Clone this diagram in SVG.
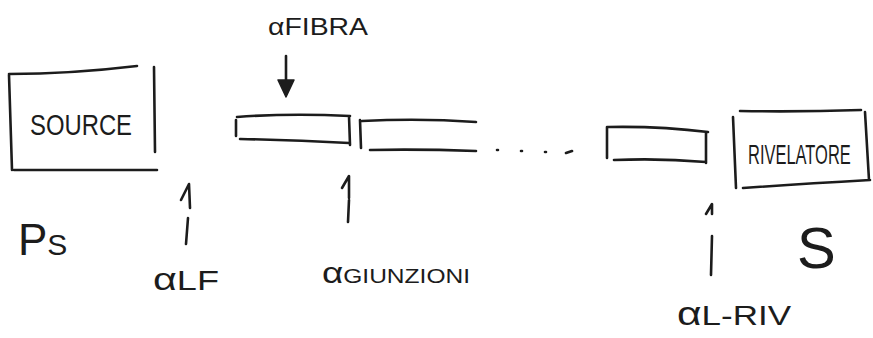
<svg xmlns="http://www.w3.org/2000/svg" width="873" height="338" viewBox="0 0 873 338">
  <style>
    .ink { fill: none; stroke: #1c1c1c; stroke-width: 2.6; stroke-linecap: round; stroke-linejoin: round; }
    .head { fill: #1c1c1c; stroke: #1c1c1c; stroke-width: 1.5; stroke-linejoin: round; }
    .lbl { font-family: "Liberation Sans", Arial, sans-serif; fill: #1c1c1c; }
  </style>
  <rect width="873" height="338" fill="#ffffff"/>

  <!-- source block -->
  <g id="source">
    <path class="ink" d="M9,75 L12,170 M9,74 Q70,74 137,66 M154,67 L155,152 M14,170 L157,170"/>
    <text class="lbl" x="30" y="135" font-size="30" textLength="102" lengthAdjust="spacingAndGlyphs">SOURCE</text>
  </g>

  <!-- fibre sections -->
  <g id="fibra1">
    <path class="ink" d="M236,120 L236,136 M237,117 Q290,113 350,116 M240,139 Q295,140 349,143 M349,116 L350,145"/>
  </g>
  <g id="fibra2">
    <path class="ink" d="M360,120 L361,148 M362,121 Q420,118 476,122 M370,150 Q420,149 476,151"/>
  </g>
  <g id="dots">
    <path class="ink" d="M497,150 L498,150 M521,151 L522,151 M545,152 L546,152 M566,153 L572,151"/>
  </g>
  <g id="fibra3">
    <path class="ink" d="M607,127 L607,158 M608,127 Q660,126 708,132 M614,160 Q660,158 706,162 M706,133 L706,163"/>
  </g>

  <!-- receiver block -->
  <g id="rivelatore">
    <path class="ink" d="M733,117 L736,188 M740,111 Q800,112 861,110 M865,112 L869,180 M743,188 Q800,184 870,180"/>
    <text class="lbl" transform="translate(748,164) scale(0.61,1)" font-size="27">RIVELATORE</text>
  </g>

  <!-- labels -->
  <g id="labels">
    <text class="lbl" x="268" y="35" font-size="24" textLength="100" lengthAdjust="spacingAndGlyphs">αFIBRA</text>
    <text class="lbl" x="18" y="255" font-size="44">P<tspan font-size="30">S</tspan></text>
    <text class="lbl" x="153" y="290" font-size="32" textLength="66" lengthAdjust="spacingAndGlyphs">α<tspan font-size="28">LF</tspan></text>
    <text class="lbl" x="322" y="283" font-size="30" textLength="148" lengthAdjust="spacingAndGlyphs">α<tspan font-size="20">GIUNZIONI</tspan></text>
    <text class="lbl" x="797" y="268" font-size="58">S</text>
    <text class="lbl" x="677" y="325" font-size="34" textLength="114" lengthAdjust="spacingAndGlyphs">α<tspan font-size="28">L-RIV</tspan></text>
  </g>

  <!-- arrows -->
  <g id="connectors">
    <path class="ink" d="M286,56 L286,84"/>
    <path class="head" d="M278,80 L294,80 L286,97 Z"/>
    <path class="ink" d="M186,244 L188,218 M181,200 L189,184 L190,208"/>
    <path class="ink" d="M348,222 L349,200 M342,188 L349,176 L349,198"/>
    <path class="ink" d="M711,275 L712,236 M706,214 L712,204 L712,214"/>
  </g>
</svg>
